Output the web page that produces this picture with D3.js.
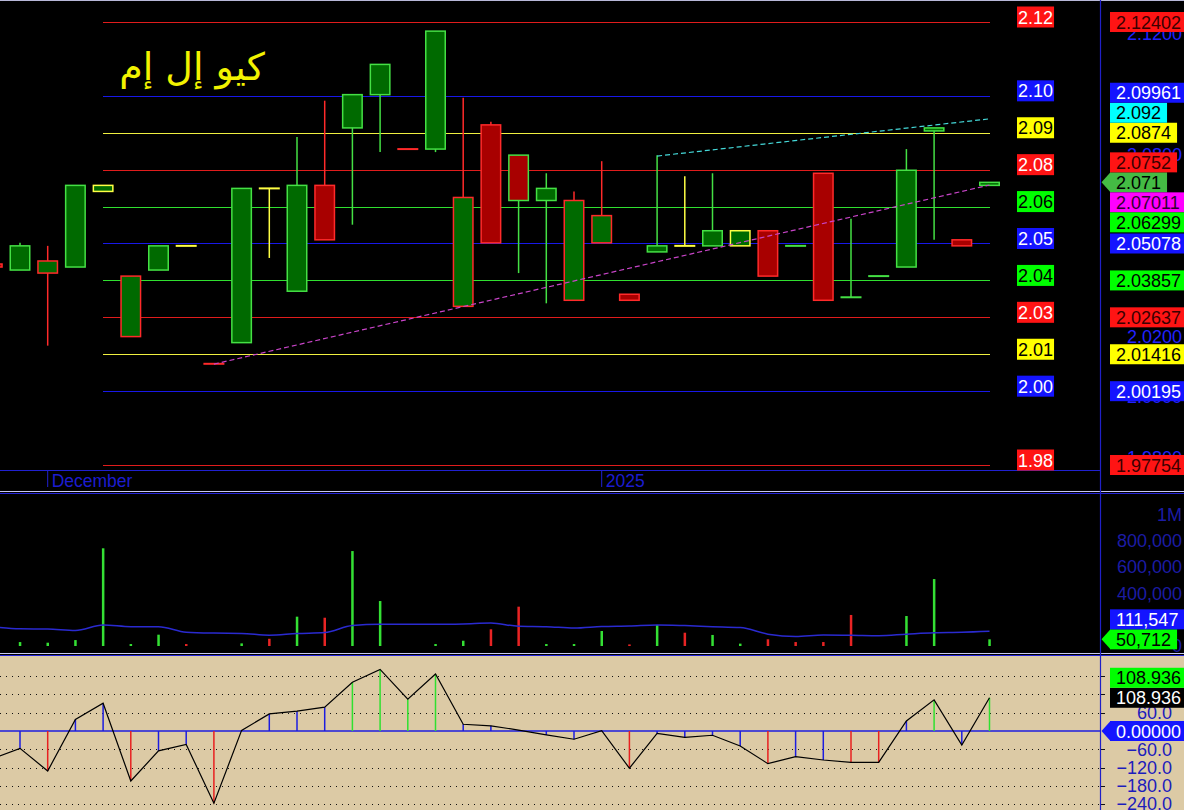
<!DOCTYPE html>
<html>
<head>
<meta charset="utf-8">
<script src="https://cdn.jsdelivr.net/npm/d3@7/dist/d3.min.js"></script>
<style>
html,body{margin:0;padding:0;background:#000;overflow:hidden}
svg{display:block}
text{font-family:"Liberation Sans",Arial,sans-serif}
</style>
</head>
<body>
<svg id="chart" width="1184" height="810"></svg>
<script>
// ---------------- DATA ----------------
const title = "كيو إل إم";
const barIndex = d3.range(-1, 36);
const monthTicks = [{bar: 1, label: "December"}, {bar: 21, label: "2025"}];

const opens  = [2.044,2.042,2.041,2.043,2.068,2.020,2.042,2.050,2.011,2.018,2.069,2.035,2.070,2.089,2.100,2.082,2.082,2.030,2.090,2.080,2.065,2.032,2.051,2.034,2.048,2.050,2.050,2.050,2.055,2.050,2.074,2.033,2.040,2.043,2.088,2.052,2.070];
const highs  = [2.044,2.051,2.050,2.070,2.070,2.040,2.050,2.050,2.011,2.069,2.069,2.086,2.098,2.100,2.110,2.082,2.121,2.099,2.091,2.080,2.074,2.068,2.078,2.034,2.080,2.073,2.074,2.055,2.055,2.050,2.074,2.059,2.040,2.082,2.089,2.052,2.071];
const lows   = [2.043,2.042,2.017,2.043,2.068,2.020,2.042,2.050,2.011,2.018,2.046,2.035,2.052,2.057,2.081,2.082,2.081,2.030,2.051,2.041,2.031,2.032,2.051,2.032,2.048,2.050,2.050,2.050,2.040,2.050,2.032,2.033,2.040,2.043,2.052,2.050,2.070];
const closes = [2.043,2.050,2.045,2.070,2.070,2.040,2.050,2.050,2.011,2.069,2.069,2.070,2.052,2.100,2.110,2.082,2.121,2.066,2.051,2.065,2.069,2.065,2.060,2.032,2.050,2.050,2.055,2.055,2.040,2.050,2.032,2.033,2.040,2.075,2.089,2.050,2.071];

const volumes = [0,30000,25000,45000,743000,15000,86000,15000,0,20000,55000,223000,215000,722000,342000,0,15000,40000,127000,299000,15000,15000,114000,12000,160000,101000,84000,18000,51000,30000,30000,236000,0,228000,509000,0,50712];
const volumeMA = [147000,131000,129000,118000,160000,147000,147000,105000,98000,96000,82000,95000,102000,155000,165000,165000,165000,168000,175000,150000,147000,136000,148000,152000,160000,155000,147000,140000,90000,72000,84000,82000,78000,90000,101000,104000,111547];

const cci = [-91,-57,-131,38,91,-164,-65,-44,-237,2,56,65,78,160,202,104,187,22,17,3,-13,-27,1,-122,-8,-21,-14,-49,-107,-84,-95,-103,-103,33,102,-46,108.936];

const levelValues = [2.12402,2.09961,2.0874,2.0752,2.06299,2.05078,2.03857,2.02637,2.01416,2.00195,1.97754];
const levelColors = ["red","blue","yellow","red","green","blue","green","red","yellow","blue","red"];
const levelBars = [3, 35];

const magentaTrend = {bars: [7, 35], prices: [2.0109, 2.07011]};
const cyanTrend    = {bars: [23, 35], prices: [2.0797, 2.092]};

const priceTicks  = [1.98, 2.00, 2.02, 2.04, 2.06, 2.08, 2.10, 2.12];
const volumeTicks = [0, 200000, 400000, 600000, 800000, 1000000];
const cciTicks    = [-240, -180, -120, -60, 60, 120, 180];
const cciZero = 0;

// ---------------- STYLE ----------------
const lineCol  = {red:"#e01c1c", blue:"#1818e8", yellow:"#f0f040", green:"#30e030"};
const tagBg    = {red:"#ff1414", blue:"#1414ff", yellow:"#ffff00", green:"#00ff00"};
const tagFgL   = {red:"#ffffff", blue:"#ffffff", yellow:"#000000", green:"#000000"};
const tagFgR   = {red:"#3a0000", blue:"#ffffff", yellow:"#000000", green:"#000000"};
const EDGE = {up:"#44e044", down:"#ff2a2a", flat:"#ffff44"};
const FILL = {up:"#006a00", down:"#a80000"};

// ---------------- SCALES ----------------
const svg = d3.select("#chart");
const AX = 1100;
const x  = d3.scaleLinear().domain([0, 35]).range([20, 989.5]);
const yP = d3.scaleLinear().domain([1.97754, 2.12402]).range([465, 22]);
const yV = d3.scaleLinear().domain([0, 1000000]).range([646, 514.5]);
const yO = d3.scaleLinear().domain([-240, 180]).range([731 + 240*0.305, 731 - 180*0.305]);

const data = barIndex.map((b, k) => ({b, o:opens[k], h:highs[k], l:lows[k], c:closes[k], v:volumes[k], ma:volumeMA[k], cci:cci[k]}));
data.forEach((d, k) => {
  const prev = k > 0 ? data[k-1].c : null;
  d.fill = d.c > d.o ? FILL.up : d.c < d.o ? FILL.down : null;
  if (prev === null) d.edge = d.c < d.o ? EDGE.down : EDGE.up;
  else d.edge = d.c > prev + 1e-9 ? EDGE.up : d.c < prev - 1e-9 ? EDGE.down : EDGE.flat;
});
const last = data[data.length-1];

// ---------------- BACKGROUNDS ----------------
svg.append("rect").attr("width",1184).attr("height",810).attr("fill","#000");
svg.append("rect").attr("x",0).attr("y",656).attr("width",1184).attr("height",154).attr("fill","#dccaa5");
svg.append("line").attr("x1",0).attr("x2",1184).attr("y1",0.5).attr("y2",0.5).attr("stroke","#b8b8d8");

svg.append("clipPath").attr("id","pclip").append("rect").attr("x",0).attr("y",0).attr("width",AX).attr("height",470);
const pg = svg.append("g").attr("clip-path","url(#pclip)");

// level lines
levelValues.forEach((v,k) => {
  const yy = Math.round(yP(v)) + 0.5;
  pg.append("line").attr("x1", x(levelBars[0])).attr("x2", x(levelBars[1]))
    .attr("y1", yy).attr("y2", yy).attr("shape-rendering","crispEdges")
    .attr("stroke", lineCol[levelColors[k]]).attr("stroke-width",1);
});

// title
svg.append("text").attr("x",192).attr("y",80).attr("text-anchor","middle")
  .style("font-family","'DejaVu Sans'")
  .attr("font-size",38).attr("fill","#f2f200").text(title);

// wicks
pg.selectAll(".wick").data(data.filter(d => d.h > d.l)).join("line")
  .attr("x1", d => x(d.b)).attr("x2", d => x(d.b))
  .attr("y1", d => yP(d.h)).attr("y2", d => yP(d.l))
  .attr("stroke", d => d.edge).attr("stroke-width",1.5);
// bodies
pg.selectAll(".body").data(data.filter(d => d.fill)).join("rect")
  .attr("x", d => x(d.b) - 9.75).attr("width", 19.5)
  .attr("y", d => yP(Math.max(d.o, d.c)))
  .attr("height", d => Math.abs(yP(d.o) - yP(d.c)))
  .attr("fill", d => d.fill).attr("stroke", d => d.edge).attr("stroke-width",1.5);
// doji lines
pg.selectAll(".doji").data(data.filter(d => !d.fill)).join("line")
  .attr("x1", d => x(d.b) - 10.5).attr("x2", d => x(d.b) + 10.5)
  .attr("y1", d => yP(d.c)).attr("y2", d => yP(d.c))
  .attr("stroke", d => d.edge).attr("stroke-width",2);

// trend lines
[[magentaTrend,"#c844c8"],[cyanTrend,"#44d8d8"]].forEach(([t,col]) => {
  pg.append("line").attr("x1", x(t.bars[0])).attr("y1", yP(t.prices[0]))
    .attr("x2", x(t.bars[1])).attr("y2", yP(t.prices[1]))
    .attr("stroke", col).attr("stroke-width",1.2).attr("stroke-dasharray","5,3");
});

// date axis
svg.append("line").attr("x1",0).attr("x2",AX).attr("y1",470.5).attr("y2",470.5).attr("stroke","#2020d0").attr("stroke-width",1.2);
monthTicks.forEach(m => {
  svg.append("line").attr("x1", x(m.bar)).attr("x2", x(m.bar)).attr("y1",470).attr("y2",487).attr("stroke","#2020d0");
  svg.append("text").attr("x", x(m.bar)+4).attr("y",487).attr("font-size",17.5).attr("fill","#1c1cd0").text(m.label);
});

// panel separators
[[491.5,"#c8c8f0"],[493.5,"#2424d8"],[653.5,"#c8c8f0"],[655.5,"#2424d8"]].forEach(([y,c]) => {
  svg.append("line").attr("x1",0).attr("x2",1184).attr("y1",y).attr("y2",y).attr("stroke",c).attr("stroke-width",1.2);
});

// ---------------- VOLUME ----------------
svg.selectAll(".vol").data(data.filter(d => d.v > 0 && x(d.b) > 0)).join("rect")
  .attr("x", d => x(d.b) - 1.2).attr("width", 2.5)
  .attr("y", d => yV(d.v)).attr("height", d => yV(0) - yV(d.v))
  .attr("fill", d => d.c > d.o ? "#34e034" : "#e82424");
svg.append("path").datum(data)
  .attr("d", d3.line().x(d => x(d.b)).y(d => yV(d.ma)).curve(d3.curveMonotoneX))
  .attr("fill","none").attr("stroke","#2a2ad0").attr("stroke-width",1.5);

// ---------------- CCI ----------------
cciTicks.forEach(t => {
  const yy = Math.round(yO(t)) + 0.5;
  svg.append("line").attr("x1",0).attr("x2",AX).attr("y1",yy).attr("y2",yy)
    .attr("stroke","#111").attr("stroke-width",1).attr("stroke-dasharray","1,5");
  svg.append("line").attr("x1",AX).attr("x2",AX+5).attr("y1",yy).attr("y2",yy).attr("stroke","#111");
});
svg.append("line").attr("x1",0).attr("x2",AX).attr("y1",yO(cciZero)).attr("y2",yO(cciZero))
  .attr("stroke","#1c1ce0").attr("stroke-width",1.5);
const cciColor = v => v > 100 ? "#30e030" : v < -100 ? "#e82020" : "#1c1ce0";
svg.selectAll(".cbar").data(data).join("line")
  .attr("x1", d => x(d.b)).attr("x2", d => x(d.b))
  .attr("y1", yO(0)).attr("y2", d => yO(d.cci))
  .attr("stroke", d => cciColor(d.cci)).attr("stroke-width",1.5);
svg.append("path").datum(data)
  .attr("d", d3.line().x(d => x(d.b)).y(d => yO(d.cci)))
  .attr("fill","none").attr("stroke","#000").attr("stroke-width",1.2);

// ---------------- RIGHT AXIS ----------------
svg.append("line").attr("x1",AX+0.5).attr("x2",AX+0.5).attr("y1",0).attr("y2",810).attr("stroke","#2020c8").attr("stroke-width",1.2);

// tags (value labels) with collision placement
function placeTags(tags, h) {
  const placed = [];
  tags.forEach(t => {
    const ok = y => placed.every(p => Math.abs(p.ty - y) >= h - 0.01);
    let best = t.y0;
    if (!ok(best)) {
      const c = [];
      placed.forEach(p => c.push(p.ty - h, p.ty + h));
      best = c.filter(ok).sort((a,b) => Math.abs(a - t.y0) - Math.abs(b - t.y0))[0];
    }
    t.ty = best; placed.push(t);
  });
  return tags;
}
const lvlTag = k => ({y0: yP(levelValues[k]), text: String(levelValues[k]), bg: tagBg[levelColors[k]], fg: tagFgR[levelColors[k]]});
const priceTags = placeTags([
  {y0: yP(last.c), text: String(last.c), bg:"#44bb44", fg:"#000", arrow:true},
  lvlTag(2), lvlTag(5), lvlTag(6), lvlTag(7), lvlTag(8), lvlTag(9), lvlTag(10), lvlTag(0),
  {y0: yP(magentaTrend.prices[1]), text: String(magentaTrend.prices[1]), bg:"#ff00ff", fg:"#300030"},
  {y0: yP(cyanTrend.prices[1]), text: String(cyanTrend.prices[1]), bg:"#00ffff", fg:"#000"},
  lvlTag(3), lvlTag(4), lvlTag(1)
], 20);
const volTags = placeTags([
  {y0: yV(last.v), text: d3.format(",")(last.v), bg:"#00ff00", fg:"#000", arrow:true},
  {y0: yV(last.ma), text: d3.format(",")(last.ma), bg:"#1414ff", fg:"#fff"}
], 20);
const cciTags = placeTags([
  {y0: yO(cciZero), text: d3.format(".5f")(cciZero), bg:"#1414ff", fg:"#fff", arrow:true},
  {y0: yO(last.cci), text: d3.format(".3f")(last.cci), bg:"#000", fg:"#fff"},
  {y0: yO(last.cci), text: d3.format(".3f")(last.cci), bg:"#00ff00", fg:"#000"}
], 20);

// tick labels that would be completely covered by tags are not drawn
const covered = (yy, tags) => d3.range(yy - 5.5, yy + 5.6, 1).every(p => tags.some(t => Math.abs(p - t.ty) <= 10));
function tickAxis(scale, ticks, tags, fmt, xr, col) {
  const vis = ticks.filter(t => !covered(scale(t), tags));
  const g = svg.append("g").attr("transform", `translate(${xr},0)`)
    .call(d3.axisLeft(scale).tickValues(vis).tickFormat(fmt).tickSize(0).tickPadding(0));
  g.select(".domain").remove();
  g.selectAll("text").attr("font-size",18).attr("fill",col).attr("font-family","Liberation Sans");
}
tickAxis(yP, priceTicks, priceTags, d3.format(".4f"), 1182, "#2222ff");
tickAxis(yV, volumeTicks, volTags, v => v === 1000000 ? "1M" : d3.format(",")(v), 1182, "#1c1ca4");
tickAxis(yO, cciTicks, cciTags, d3.format(".1f"), 1172, "#1c1cbc");

// left level tags
levelValues.forEach((v,k) => {
  const yy = yP(v);
  const g = svg.append("g");
  const r = g.append("rect").attr("x",1017).attr("y",yy-15.5).attr("height",21).attr("fill",tagBg[levelColors[k]]);
  const t = g.append("text").attr("x",1018).attr("y",yy+1.5).attr("font-size",18).attr("fill",tagFgL[levelColors[k]]).text(v.toFixed(2));
  r.attr("width", t.node().getComputedTextLength()+2);
});

function drawTag(t) {
  const g = svg.append("g");
  if (t.arrow) g.append("path").attr("d", `M${AX+1.5},${t.ty} L1110.5,${t.ty-10} L1110.5,${t.ty+10} Z`).attr("fill", t.bg);
  const r = g.append("rect").attr("x",1110).attr("y",t.ty-10).attr("height",20).attr("fill",t.bg);
  const tx = g.append("text").attr("x",1116).attr("y",t.ty+6.5).attr("font-size",18).attr("fill",t.fg).text(t.text);
  r.attr("width", tx.node().getComputedTextLength()+12);
}
priceTags.forEach(drawTag);
volTags.forEach(drawTag);
cciTags.forEach(drawTag);
</script>
</body>
</html>
